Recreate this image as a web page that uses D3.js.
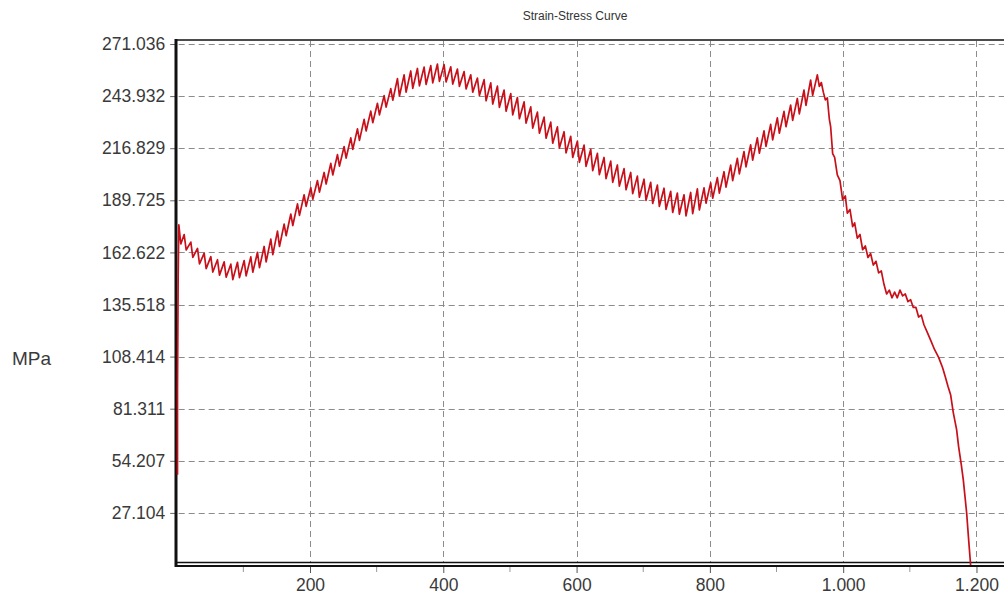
<!DOCTYPE html>
<html>
<head>
<meta charset="utf-8">
<script src="https://cdn.jsdelivr.net/npm/d3@7"></script>
<style>
  html, body { margin: 0; padding: 0; background: #fff; }
  svg { display: block; }
  text { font-family: "Liberation Sans", Arial, sans-serif; }
</style>
</head>
<body>
<svg id="chart" width="1004" height="601"></svg>
<script>
// ---------------- data ----------------
const chartTitle = "Strain-Stress Curve";
const yAxisLabel = "MPa";
const yTickValues = [27.104, 54.207, 81.311, 108.414, 135.518, 162.622, 189.725, 216.829, 243.932, 271.036];
const yTickLabels = ["27.104", "54.207", "81.311", "108.414", "135.518", "162.622", "189.725", "216.829", "243.932", "271.036"];
const xTickValues = [200, 400, 600, 800, 1000, 1200];
const xTickLabels = ["200", "400", "600", "800", "1.000", "1.200"];
const xMinorTicks = [100, 300, 500, 700, 900, 1100];

// initial loading (along the stress axis)
const loadStrain = [0, 0, 1, 2, 5];
const loadStress = [47, 92, 150, 177, 167];

// serrated section: local maxima and minima
const peakStrain = [10,20,30,40,50,60,70,80,90,100,110,120,130,140,150,160,170,180,190,200,
  210,220,230,240,250,260,270,280,290,300,310,320,330,340,350,360,370,380,390,400,
  410,420,430,440,450,460,470,480,490,500,510,520,530,540,550,560,570,580,590,600,
  610,620,630,640,650,660,670,680,690,700,710,720,730,740,750,760,770,780,790,800,
  810,820,830,840,850,860,870,880,890,900,910,920,930,940,950,960];
const peakStress = [171.9,168.0,164.7,162.2,160.4,158.8,157.7,156.5,157.5,158.4,160.3,162.7,165.7,169.5,173.7,177.3,182.6,187.9,192.6,196.3,
  200.0,204.2,208.9,213.5,217.7,222.2,226.9,231.8,236.1,240.2,244.2,247.8,253.0,255.0,257.0,258.3,259.0,259.8,260.6,260.3,
  259.2,258.0,256.7,255.0,253.3,252.5,250.8,249.1,247.1,245.2,243.2,240.9,238.3,235.6,233.0,230.4,227.9,225.4,223.0,220.5,
  218.4,216.2,214.1,212.0,210.1,208.1,206.2,204.2,202.3,200.7,199.1,197.6,196.0,194.4,193.5,192.6,193.8,195.7,196.2,198.8,
  201.5,204.6,208.0,211.5,215.1,218.6,222.2,225.8,229.2,232.6,236.0,239.3,242.7,247.1,252.3,255.0];
const valleyStrain = [13,23,33,43,53,63,73,83,93,103,113,123,133,143,153,163,173,183,193,203,
  213,223,233,243,253,263,273,283,293,303,313,323,333,343,353,363,373,383,393,403,
  413,423,433,443,453,463,473,483,493,503,513,523,533,543,553,563,573,583,593,603,
  613,623,633,643,653,663,673,683,693,703,713,723,733,743,753,763,773,783,793,803,
  813,823,833,843,853,863,873,883,893,903,913,923,933,943,953,963];
const valleyStress = [163.9,160.0,156.7,154.2,152.4,150.8,149.7,148.5,149.5,150.4,152.3,154.7,157.7,161.5,165.7,171.3,176.6,181.9,186.6,190.3,
  194.0,198.2,202.9,207.5,211.7,216.2,220.9,225.8,230.1,234.2,238.2,241.8,244.0,246.0,248.0,249.3,250.0,250.8,251.6,251.3,
  250.2,249.0,247.7,246.0,244.3,241.5,239.8,238.1,236.1,234.2,232.2,229.9,227.3,224.6,222.0,219.4,216.9,214.4,212.0,209.5,
  207.4,205.2,203.1,201.0,199.1,197.1,195.2,193.2,191.3,189.7,188.1,186.6,185.0,183.4,182.5,181.6,182.8,184.7,188.2,190.8,
  193.5,196.6,200.0,203.5,207.1,210.6,214.2,217.8,221.2,224.6,228.0,231.3,234.7,239.1,244.3,249.0];

// softening and fracture
const tailStrain = [966,969,972,975,978,980,983,986,990,994,998,1002,1005,1009,1013,1016,1020,1024,1028,1032,
  1036,1040,1044,1048,1052,1056,1060,1064,1068,1072,1076,1080,1084,1088,1092,1096,1100,1104,1108,1112,
  1116,1120,1125,1130,1136,1142,1148,1152,1156,1160,1164,1169,1172,1176,1179,1184,1187,1190];
const tailStress = [251,246,242,243,232,228,214,212,203,200,190,192,183,185,176,178,170,172,164,166,
  160,162,156,158,152,153,146,141,143,139,142,139,143,140,141,137,138,134,134,129,
  130,125,121,117,112,108,102.6,97.9,93,88.6,79.3,70.4,61.6,52.2,44.4,27.3,13.3,0];

// ---------------- build ----------------
(function () {
  const points = [];
  loadStrain.forEach((s, i) => points.push([s, loadStress[i]]));
  peakStrain.forEach((s, i) => {
    points.push([s, peakStress[i]]);
    points.push([valleyStrain[i], valleyStress[i]]);
  });
  tailStrain.forEach((s, i) => points.push([s, tailStress[i]]));

  const svg = d3.select("#chart");
  const pL = 176.7, pR = 1004, pT = 44, pB = 565;

  const x = d3.scaleLinear().domain([0, 1241.3]).range([pL, pR]);
  const y = d3.scaleLinear().domain([0, 271.036]).range([pB, pT]);

  const gridColor = "#8c8c8c";
  const textColor = "#3a3a3a";
  const fontFam = "'Liberation Sans', Arial, sans-serif";

  // title
  svg.append("text")
    .attr("x", 575).attr("y", 20)
    .attr("text-anchor", "middle")
    .attr("font-size", 12)
    .attr("fill", "#333")
    .text(chartTitle);

  // y axis label
  svg.append("text")
    .attr("x", 12).attr("y", 365)
    .attr("font-size", 19)
    .attr("fill", textColor)
    .text(yAxisLabel);

  // grid
  const gGrid = svg.append("g");
  gGrid.selectAll("line.h").data(yTickValues).join("line").attr("class", "h")
    .attr("x1", pL + 2).attr("x2", pR)
    .attr("y1", d => Math.round(y(d)) + 0.5).attr("y2", d => Math.round(y(d)) + 0.5)
    .attr("stroke", gridColor).attr("stroke-width", 1)
    .attr("stroke-dasharray", "6,4");
  gGrid.selectAll("line.v").data(xTickValues).join("line").attr("class", "v")
    .attr("x1", d => Math.round(x(d)) + 0.5).attr("x2", d => Math.round(x(d)) + 0.5)
    .attr("y1", 41).attr("y2", 562)
    .attr("stroke", gridColor).attr("stroke-width", 1)
    .attr("stroke-dasharray", "6,4");

  // y axis
  const yAxis = d3.axisLeft(y)
    .tickValues(yTickValues)
    .tickFormat((d, i) => yTickLabels[i])
    .tickSize(6).tickPadding(5);
  const gy = svg.append("g").attr("transform", `translate(${pL - 0.5},0)`).call(yAxis);
  gy.select(".domain").remove();
  gy.selectAll(".tick line").attr("stroke", "#666");
  gy.selectAll(".tick text")
    .attr("font-size", 17.5)
    .attr("font-family", fontFam)
    .attr("fill", textColor);

  // x axis
  const xAxis = d3.axisBottom(x)
    .tickValues(xTickValues)
    .tickFormat((d, i) => xTickLabels[i])
    .tickSize(6).tickPadding(6);
  const gx = svg.append("g").attr("transform", "translate(0,567)").call(xAxis);
  gx.select(".domain").remove();
  gx.selectAll(".tick line").attr("stroke", "#555");
  gx.selectAll(".tick text")
    .attr("font-size", 17.5)
    .attr("font-family", fontFam)
    .attr("fill", textColor);
  svg.append("g").selectAll("line").data(xMinorTicks).join("line")
    .attr("x1", d => x(d)).attr("x2", d => x(d))
    .attr("y1", 567).attr("y2", 572)
    .attr("stroke", "#999").attr("stroke-width", 1);

  // frame
  svg.append("line").attr("x1", pL - 1).attr("x2", pR).attr("y1", 40).attr("y2", 40)
    .attr("stroke", "#111").attr("stroke-width", 1.6);
  svg.append("line").attr("x1", 176).attr("x2", 176).attr("y1", 39).attr("y2", 567)
    .attr("stroke", "#111").attr("stroke-width", 3);
  svg.append("line").attr("x1", pL).attr("x2", pR).attr("y1", 562.5).attr("y2", 562.5)
    .attr("stroke", "#111").attr("stroke-width", 1.6);
  svg.append("line").attr("x1", pL).attr("x2", pR).attr("y1", 566).attr("y2", 566)
    .attr("stroke", "#111").attr("stroke-width", 1.8);

  // curve
  const line = d3.line().x(d => x(d[0]) + 0.8).y(d => y(d[1]));
  svg.append("path")
    .datum(points)
    .attr("d", line)
    .attr("fill", "none")
    .attr("stroke", "#c8101a")
    .attr("stroke-width", 1.7)
    .attr("stroke-linejoin", "round");
})();
</script>
</body>
</html>
